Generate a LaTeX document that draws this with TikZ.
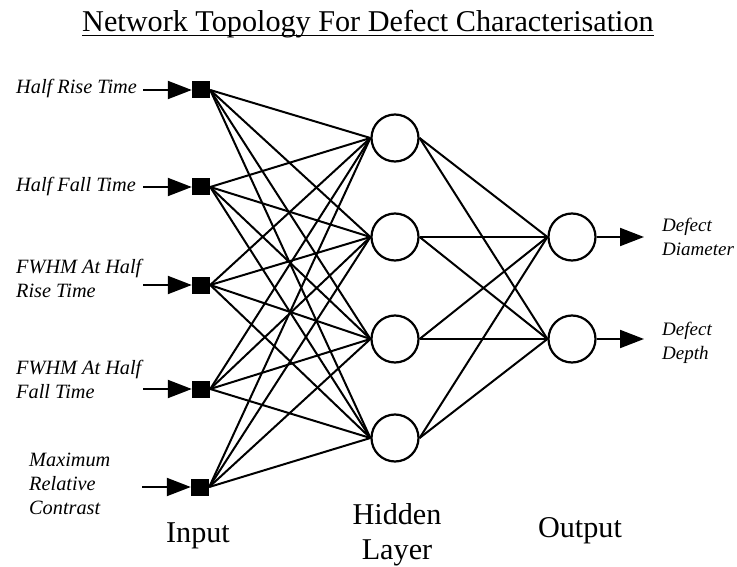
\documentclass[tikz,border=0pt]{standalone}
\usepackage{fontspec}
\setmainfont{Liberation Serif}
\usetikzlibrary{arrows.meta}
\begin{document}
\begin{tikzpicture}[x=1pt,y=-1pt,
  insq/.style={fill=black,inner sep=0pt,minimum width=18pt,minimum height=17pt},
  neuron/.style={circle,draw,line width=2.2pt,minimum size=47pt,inner sep=0pt},
  link/.style={line width=2pt},
  feed/.style={line width=2pt,-{Triangle[length=24pt,width=18pt]}},
  lab/.style={font=\fontsize{20.3}{24}\selectfont\itshape,align=left,inner sep=0pt,anchor=base west},
  outlab/.style={lab,font=\fontsize{19}{23.5}\selectfont\itshape},
  big/.style={font=\fontsize{30.2}{35}\selectfont,inner sep=0pt,align=center,anchor=base}]
\useasboundingbox (0,0) rectangle (737,567);
% title
\node[big] (title) at (368,32) {Network Topology For Defect Characterisation};
\draw[line width=1.4pt] ([yshift=-3.5pt]title.base west) -- ([yshift=-3.5pt]title.base east);
% input squares
\node[insq] (in1) at (201,90) {};
\node[insq] (in2) at (201,187) {};
\node[insq] (in3) at (201,285) {};
\node[insq] (in4) at (201,389) {};
\node[insq] (in5) at (200,487) {};
% hidden
\node[neuron] (h1) at (395,138) {};
\node[neuron] (h2) at (395,237) {};
\node[neuron] (h3) at (395,339) {};
\node[neuron] (h4) at (395,438) {};
% outputs
\node[neuron] (o1) at (572,237) {};
\node[neuron] (o2) at (572,339) {};
% connections
\foreach \i in {1,...,5}{\foreach \j in {1,...,4}{\draw[link] (in\i.east) -- (h\j.west);}}
\foreach \j in {1,...,4}{\foreach \k in {1,2}{\draw[link] (h\j.east) -- (o\k.west);}}
% input arrows and labels
\coordinate (s1) at (143,90);
\coordinate (s2) at (143,187);
\coordinate (s3) at (143,285);
\coordinate (s4) at (143,389);
\coordinate (s5) at (142,487);
\foreach \i in {1,...,5}{\draw[feed] (s\i) -- (in\i.west);}
\node[lab] (l1) at (16,94) {Half Rise Time};
\node[lab] (l2) at (16,192) {Half Fall Time};
\node[lab] (l3) at (16,297) {FWHM At Half\\Rise Time};
\node[lab] (l4) at (16,398) {FWHM At Half\\Fall Time};
\node[lab] (l5) at (29,514) {Maximum\\Relative\\Contrast};
% output arrows and labels
\coordinate (d1) at (644,237);
\coordinate (d2) at (644,339);
\draw[feed] (o1.east) -- (d1);
\draw[feed] (o2.east) -- (d2);
\node[outlab] (r1) at (662,255) {Defect\\Diameter};
\node[outlab] (r2) at (662,359) {Defect\\Depth};
% layer labels
\node[big] (tin) at (198,542) {Input};
\node[big] (thid) at (397,559) {Hidden\\Layer};
\node[big] (tout) at (580,537) {Output};
\end{tikzpicture}
\end{document}
